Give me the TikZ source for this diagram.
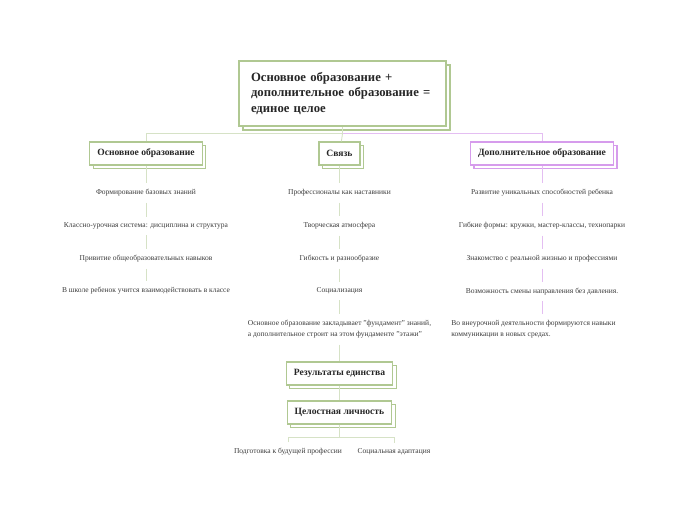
\documentclass[tikz,border=0pt]{standalone}
\usepackage{fontspec}
\setmainfont{Liberation Serif}
\usetikzlibrary{shadows}
\definecolor{gr}{RGB}{176,200,146}
\definecolor{grl}{RGB}{214,226,198}
\definecolor{pu}{RGB}{214,156,236}
\definecolor{pul}{RGB}{228,190,242}
\definecolor{txt}{RGB}{60,60,60}
\begin{document}
\begin{tikzpicture}[x=1pt, y=-1pt, node distance={33pt},
	gbox/.style = {draw=gr, fill=white, line width=1.2pt, text=black!85,
		copy shadow={shadow xshift=3.5pt, shadow yshift=-3.5pt},
		font=\bfseries\fontsize{9.6}{11}\selectfont, minimum height=23pt, inner xsep=7.5pt},
	pbox/.style = {gbox, draw=pu},
	item/.style = {font=\fontsize{7.5}{11}\selectfont, text=txt, inner ysep=6pt},
	gline/.style = {draw=grl, line width=0.9pt},
	pline/.style = {draw=pul, line width=0.9pt}]
\useasboundingbox (0,0) rectangle (697,520);
% root
\node[gbox, line width=1.5pt, font=\bfseries\fontsize{12.7}{15.5}\selectfont,
	minimum width=207pt, minimum height=65pt, text width=183pt, inner xsep=12pt,
	align=left, copy shadow={shadow xshift=4pt, shadow yshift=-4pt}] (r) at (342.5,93.5)
	{Основное образование +\\ дополнительное образование =\\ единое целое};
% branches
\node[gbox] (a) at (146,153.5) {Основное образование};
\node[gbox] (b) at (339.5,153.5) {Связь};
\node[pbox] (c) at (542,153.5) {Дополнительное образование};
% left column
\node[item] (a1) [below of=a, node distance=39.5pt] {Формирование базовых знаний};
\node[item] (a2) [below of=a1] {Классно-урочная система: дисциплина и структура};
\node[item] (a3) [below of=a2] {Привитие общеобразовательных навыков};
\node[item] (a4) [below of=a3, node distance=32pt] {В школе ребенок учится взаимодействовать в классе};
% middle column
\node[item] (b1) [below of=b, node distance=39.5pt] {Профессионалы как наставники};
\node[item] (b2) [below of=b1] {Творческая атмосфера};
\node[item] (b3) [below of=b2] {Гибкость и разнообразие};
\node[item] (b4) [below of=b3, node distance=32pt] {Социализация};
\node[item, align=left] (b5) [below of=b4, node distance=38.5pt]
	{Основное образование закладывает "фундамент" знаний,\\ а дополнительное строит на этом фундаменте "этажи"};
% right column
\node[item] (c1) [below of=c, node distance=39.5pt] {Развитие уникальных способностей ребенка};
\node[item] (c2) [below of=c1] {Гибкие формы: кружки, мастер-классы, технопарки};
\node[item] (c3) [below of=c2] {Знакомство с реальной жизнью и профессиями};
\node[item] (c4) [below of=c3, node distance=32.5pt] {Возможность смены направления без давления.};
\node[item, align=left] (c5) at (533.5,329.5)
	{Во внеурочной деятельности формируются навыки\\ коммуникации в новых средах.};
% results
\node[gbox] (d) [below of=b5, node distance=44pt] {Результаты единства};
\node[gbox] (e) [below of=d, node distance=39pt] {Целостная личность};
\node[item] (e1) at (288,452) {Подготовка к будущей профессии};
\node[item] (e2) at (394,452) {Социальная адаптация};
% connectors
\coordinate (j0) at ([yshift=-7pt]r.south);
\draw[gline] (r.south) -- (j0) -| (a);
\draw[gline] (j0) -- (b);
\draw[pline] (j0) -| (c);
\draw[gline] (a) -- (a1) (a1) -- (a2) (a2) -- (a3) (a3) -- (a4);
\draw[gline] (b) -- (b1) (b1) -- (b2) (b2) -- (b3) (b3) -- (b4) (b4) -- (b5);
\draw[pline] (c) -- (c1) (c1) -- (c2) (c2) -- (c3) (c3) -- (c4) (c4) -- (c4 |- c5.north);
\draw[gline] (b5) -- (d);
\draw[gline] (d) -- (e);
\coordinate (j1) at ([yshift=-13pt]e.south);
\draw[gline] (e) -- (j1);
\draw[gline] (e1) |- (j1) -| (e2);
\end{tikzpicture}
\end{document}
